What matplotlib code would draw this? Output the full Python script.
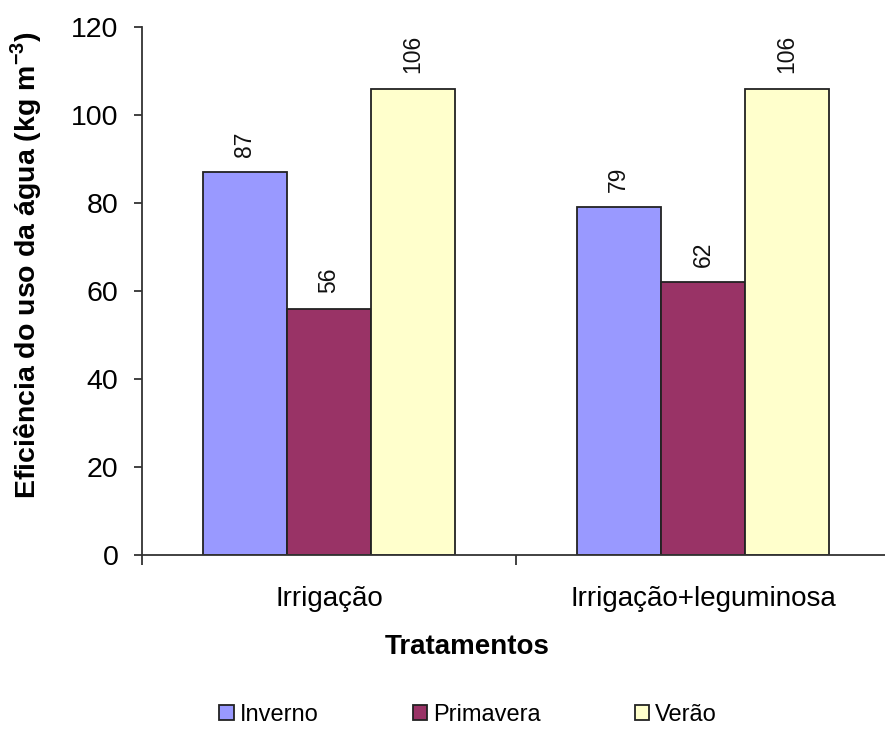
import matplotlib.pyplot as plt
import numpy as np

plt.rcParams['font.family'] = ['Liberation Sans', 'DejaVu Sans']

tratamentos = ["Irrigação", "Irrigação+leguminosa"]
estacoes = ["Inverno", "Primavera", "Verão"]
inverno = [87, 79]
primavera = [56, 62]
verao = [106, 106]
cores = ["#9999FF", "#993366", "#FFFFCC"]

fig = plt.figure(figsize=(8.85, 7.29), dpi=100)
ax = fig.add_axes([142/885, 1 - 555/729, (890 - 142)/885, (555 - 27)/729])

x = np.arange(len(tratamentos))
w = 0.225
for i, (nome, vals) in enumerate(zip(estacoes, [inverno, primavera, verao])):
    pos = x + (i - 1) * w
    ax.bar(pos, vals, w, color=cores[i], edgecolor="#222222", linewidth=1.3, label=nome, zorder=2)
    for p, v in zip(pos, vals):
        ax.annotate(f"{v:.0f}", (p, v), xytext=(0, 11), textcoords="offset points",
                    rotation=90, ha="center", va="bottom", fontsize=16.5, color="#111111")

ax.set_xlim(-0.5, 1.5)
ax.set_ylim(0, 120)
ax.set_yticks(range(0, 121, 20))
ax.set_xticks([-0.5, 0.5, 1.5], minor=False)
ax.set_xticklabels([])
ax.set_xticks(x, minor=True)
ax.set_xticklabels(tratamentos, minor=True, fontsize=20)
ax.tick_params(axis="x", which="minor", length=0, pad=22)
ax.tick_params(axis="x", which="major", direction="out", length=7, width=1.3, color="#333333")
ax.tick_params(axis="y", direction="out", length=6, width=1.3, color="#333333", labelsize=20.5, pad=11)

for s in ["top", "right"]:
    ax.spines[s].set_visible(False)
for s in ["left", "bottom"]:
    ax.spines[s].set_linewidth(1.3)
    ax.spines[s].set_color("#333333")

ax.set_ylabel("Eficiência do uso da água (kg m$^{\\mathregular{-3}}$)", fontsize=20.5, fontweight="bold")
ax.yaxis.set_label_coords(-0.131, 0.55)
ax.set_xlabel("Tratamentos", fontsize=20, fontweight="bold")
ax.xaxis.set_label_coords(0.4345, -0.15)

leg = fig.legend(loc="center", bbox_to_anchor=(468/885, 1 - 715/729), ncol=3, frameon=False,
                 fontsize=17, handlelength=0.6, handleheight=0.6, handletextpad=0.25, columnspacing=4.0)

fig.savefig("out.png", dpi=100)
